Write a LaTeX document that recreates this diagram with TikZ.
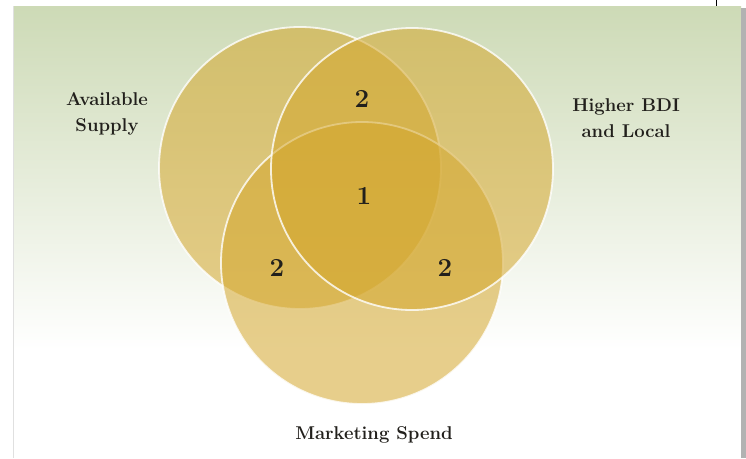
\documentclass[tikz,border=0pt]{standalone}
\definecolor{bgtop}{RGB}{205,218,182}
\definecolor{gold}{RGB}{212,167,45}
\definecolor{ink}{RGB}{34,32,28}
\begin{document}
\begin{tikzpicture}[x=1pt,y=-1pt,
  venn/.style={circle, minimum size=282pt, inner sep=0pt, fill=gold, fill opacity=0.55,
    draw=white, draw opacity=0.8, line width=1.8pt},
  lab/.style={font=\bfseries\fontsize{18.5}{26}\selectfont, align=center, text=ink},
  num/.style={font=\bfseries\fontsize{26}{28}\selectfont, text=ink}]
\useasboundingbox (0,0) rectangle (746,458);
\fill[white] (0,0) rectangle (746,458);
\shade[top color=bgtop, bottom color=white] (13,6) rectangle (741,350);
\fill[black!30] (741,8) rectangle (746,458);
\draw[black!12, line width=0.6pt] (13,6) -- (13,458);
\draw[black, line width=0.8pt] (716.5,0) -- (716.5,6);
% circles
\node[venn] (supply) at (300,168) {};
\node[venn] (spend) at (362,263) {};
\node[venn] (bdi) at (412,169) {};
% labels
\node[lab] (lsupply) at (107,114) {Available\\Supply};
\node[lab] (lbdi) at (626,118) {Higher BDI\\and Local};
\node[lab] (lspend) at (374,435) {Marketing Spend};
% numbers
\node[num] (ntop) at (362,99) {2};
\node[num] (ncenter) at (364,196) {1};
\node[num] (nleft) at (277,268) {2};
\node[num] (nright) at (445,268) {2};
\end{tikzpicture}
\end{document}
